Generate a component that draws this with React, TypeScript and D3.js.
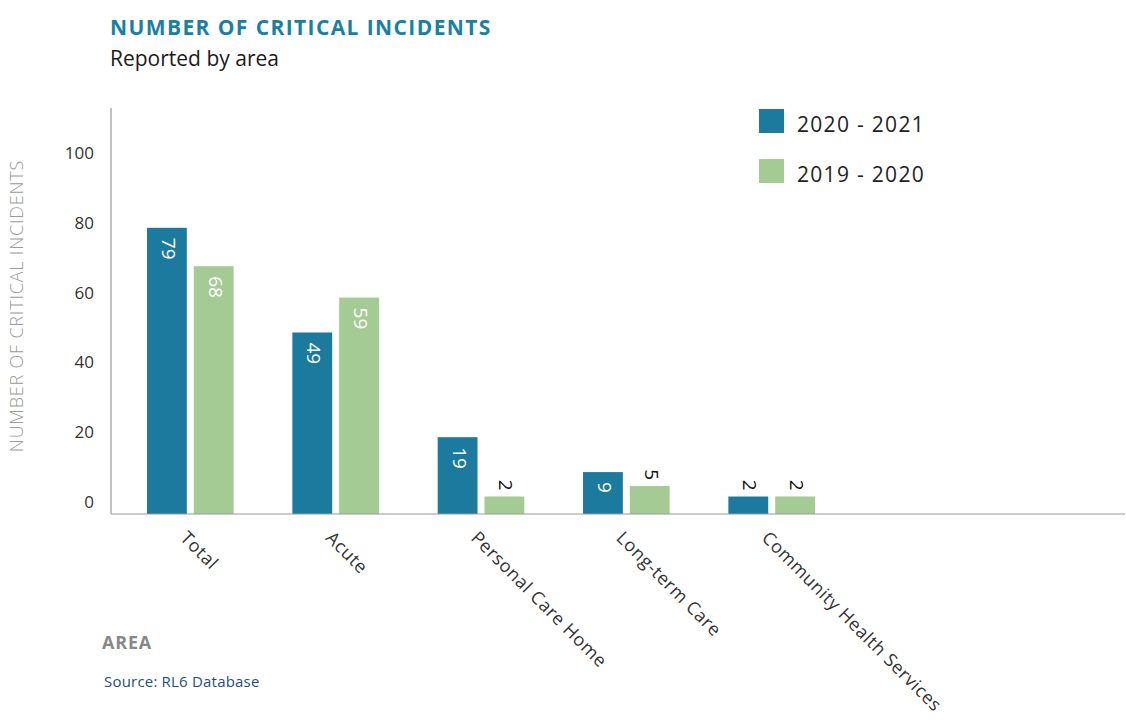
import React from "react";
import * as d3 from "d3";

const categories = ["Total", "Acute", "Personal Care Home", "Long-term Care", "Community Health Services"];
const seriesNames = ["2020 - 2021", "2019 - 2020"];
const values2021 = [79, 49, 19, 9, 2];
const values2020 = [68, 59, 2, 5, 2];
const yTicks = [0, 20, 40, 60, 80, 100];

const W = 1126;
const H = 725;
const BLUE = "#1b7a9d";
const GREEN = "#a4cb94";
const FONT = "'Open Sans', Lato, sans-serif";

export default function App() {
  const plotLeft = 111;
  const plotRight = 1125;
  const plotTop = 108;
  const plotBottom = 514;

  const y = d3.scaleLinear().domain([0, 100]).range([503.5, 154.5]);
  const x = d3.scaleBand<string>().domain(categories).range([147, 815]).paddingInner(0.404);
  const xs = d3.scaleBand<string>().domain(seriesNames).range([0, x.bandwidth()]).paddingInner(0.149);
  const color = d3.scaleOrdinal<string, string>().domain(seriesNames).range([BLUE, GREEN]);

  const data = categories.map((c, i) => ({ cat: c, vals: [values2021[i], values2020[i]] }));

  return (
    <div style={{ position: "absolute", left: 0, top: 0 }}>
      <svg width={W} height={H} style={{ display: "block", fontFamily: FONT }}>
        <rect width={W} height={H} fill="#fff" />
        <text x={110} y={35} fontSize={21} fontWeight={700} fill="#1a7fa0" letterSpacing={1.4}>
          NUMBER OF CRITICAL INCIDENTS
        </text>
        <text x={110} y={66} fontSize={21} fill="#1a1a1a">
          Reported by area
        </text>

        {/* y axis title */}
        <text
          transform={`translate(23,306) rotate(-90)`}
          textAnchor="middle"
          fontSize={18}
          fontWeight={300}
          fill="#9a9a9a"
          letterSpacing={0.8}
        >
          NUMBER OF CRITICAL INCIDENTS
        </text>

        {/* y ticks */}
        {yTicks.map((t) => (
          <text key={t} x={94} y={y(t)} textAnchor="end" dominantBaseline="middle" fontSize={17} fill="#333">
            {t}
          </text>
        ))}

        {/* bars */}
        {data.map((d) => (
          <g key={d.cat} transform={`translate(${x(d.cat)},0)`}>
            {d.vals.map((v, j) => {
              const s = seriesNames[j];
              const bx = xs(s)!;
              const top = y(v);
              const h = plotBottom - top;
              const cx = bx + xs.bandwidth() / 2;
              const labelLen = String(v).length * 12;
              const inside = h > labelLen + 16;
              return (
                <g key={s}>
                  <rect x={bx} y={top} width={xs.bandwidth()} height={h} fill={color(s)} />
                  <text
                    transform={`translate(${cx},${inside ? top + 10 : top - 6}) rotate(90)`}
                    textAnchor={inside ? "start" : "end"}
                    dominantBaseline="middle"
                    fontSize={19}
                    fill={inside ? "#fff" : "#111"}
                  >
                    {v}
                  </text>
                </g>
              );
            })}
          </g>
        ))}

        {/* axes lines */}
        <line x1={plotLeft} x2={plotLeft} y1={plotTop} y2={plotBottom} stroke="#999" strokeWidth={1.2} />
        <line x1={plotLeft} x2={plotRight} y1={plotBottom} y2={plotBottom} stroke="#999" strokeWidth={1.2} />

        {/* x labels */}
        {categories.map((c) => (
          <text
            key={c}
            transform={`translate(${x(c)! + x.bandwidth() / 2 - 11},539) rotate(45)`}
            fontSize={18}
            fill="#333"
            letterSpacing={0.6}
          >
            {c}
          </text>
        ))}

        {/* legend */}
        {seriesNames.map((s, i) => (
          <g key={s} transform={`translate(759,${109 + i * 50})`}>
            <rect width={25} height={24} fill={color(s)} />
            <text x={38} y={17} dominantBaseline="middle" fontSize={21} fill="#222" letterSpacing={1.3}>
              {s}
            </text>
          </g>
        ))}

        <text x={102} y={649} fontSize={18} fontWeight={700} fill="#888" letterSpacing={0.8}>
          AREA
        </text>
        <text x={104} y={687} fontSize={15} fill="#1f4f7a" letterSpacing={0.2}>
          Source: RL6 Database
        </text>
      </svg>
    </div>
  );
}
